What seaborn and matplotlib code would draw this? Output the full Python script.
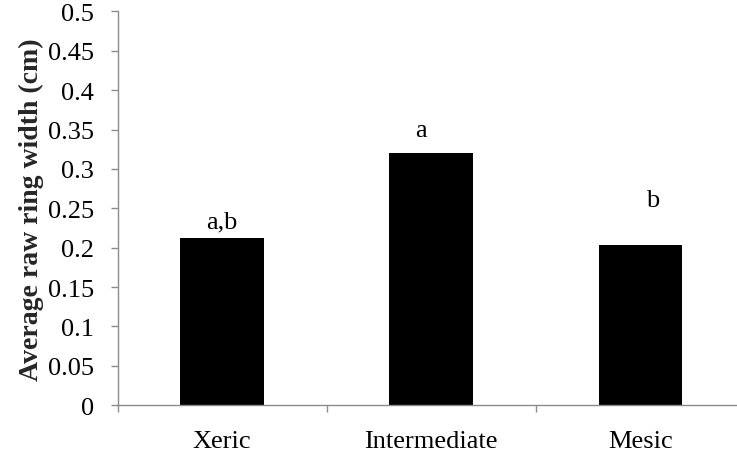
import matplotlib
matplotlib.use("Agg")
import matplotlib.pyplot as plt
import seaborn as sns
import pandas as pd

# Site moisture classes and mean raw ring width (cm)
sites = ["Xeric", "Intermediate", "Mesic"]
ring_width = [0.212, 0.320, 0.204]

# Significance letters with their positions (category offset, height)
letters = ["a,b", "a", "b"]
letter_x = [0.0, 0.95, 2.06]
letter_y = [0.226, 0.342, 0.2525]

sns.set_theme(style="white")
plt.rcParams["font.family"] = ["Liberation Serif", "DejaVu Serif"]

FS = 19

df = pd.DataFrame({"site": sites, "width": ring_width})

fig = plt.figure(figsize=(7.37, 4.56), dpi=100)
ax = fig.add_axes([0.1597, 0.109, 0.851, 0.864])

sns.barplot(data=df, x="site", y="width", order=sites, color="black",
            width=0.4, saturation=1, edgecolor="none", ax=ax)

for lx, ly, txt in zip(letter_x, letter_y, letters):
    ax.text(lx, ly, txt, ha="center", va="baseline", fontsize=FS, color="black")

ax.set_xlim(-0.5, 2.5)
ax.set_ylim(0, 0.5)
yt = [i * 0.05 for i in range(11)]
ax.set_yticks(yt)
ax.set_yticklabels(["0", "0.05", "0.1", "0.15", "0.2", "0.25", "0.3", "0.35",
                    "0.4", "0.45", "0.5"])
ax.set_xticks([-0.5, 0.5, 1.5, 2.5], minor=False)
ax.set_xticklabels(["", "", "", ""])
ax.set_xticks([0, 1, 2], minor=True)
ax.set_xticklabels(sites, minor=True)

axis_grey = "#8c8c8c"
for side in ["top", "right"]:
    ax.spines[side].set_visible(False)
for side in ["left", "bottom"]:
    ax.spines[side].set_color(axis_grey)
    ax.spines[side].set_linewidth(1.0)

ax.tick_params(axis="y", which="major", direction="out", length=5.2, width=1,
               color=axis_grey, labelsize=FS, labelcolor="black", pad=12, left=True)
ax.tick_params(axis="x", which="major", direction="out", length=5.2, width=1,
               color=axis_grey, bottom=True)
ax.tick_params(axis="x", which="minor", length=0, labelsize=FS,
               labelcolor="black", pad=18, bottom=True)

ax.set_xlabel("")
ax.set_ylabel("Average raw ring width (cm)", fontsize=20, fontweight="bold",
              labelpad=3)

fig.savefig("out.png", dpi=100)
